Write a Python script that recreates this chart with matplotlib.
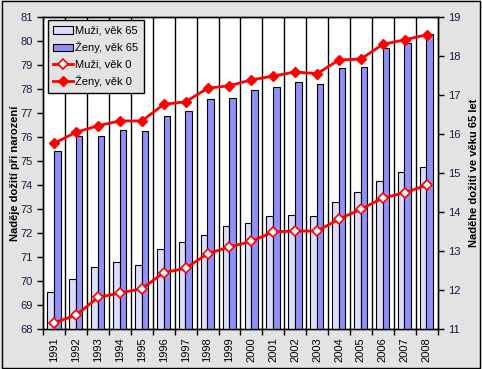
import matplotlib
matplotlib.use("Agg")
import matplotlib.pyplot as plt
from matplotlib.patches import Rectangle
import numpy as np

plt.rcParams['font.family'] = ['Liberation Sans', 'DejaVu Sans']

years = [str(y) for y in range(1991, 2009)]
muzi_65 = [11.94, 12.27, 12.58, 12.71, 12.64, 13.04, 13.22, 13.40, 13.63, 13.71,
           13.89, 13.92, 13.89, 14.26, 14.51, 14.79, 15.02, 15.15]
zeny_65 = [15.57, 15.94, 15.94, 16.09, 16.07, 16.45, 16.59, 16.89, 16.92, 17.12,
           17.20, 17.33, 17.27, 17.68, 17.73, 18.20, 18.33, 18.56]
muzi_0 = [68.26, 68.58, 69.32, 69.50, 69.68, 70.35, 70.53, 71.14, 71.42, 71.65,
          72.05, 72.08, 72.08, 72.58, 72.99, 73.46, 73.68, 73.99]
zeny_0 = [75.74, 76.20, 76.47, 76.67, 76.67, 77.36, 77.47, 78.03, 78.14, 78.38,
          78.54, 78.71, 78.64, 79.21, 79.25, 79.86, 80.05, 80.26]

bg = '#e3e3e3'
fig = plt.figure(figsize=(4.82, 3.69), dpi=100, facecolor=bg)
fig.patches.append(Rectangle((0.004, 0.004), 0.992, 0.992, transform=fig.transFigure,
                             fill=False, edgecolor='black', linewidth=1.0))

ax = fig.add_axes([0.0898, 0.1084, 0.818, 0.8455])
ax2 = ax.twinx()

x = np.arange(len(years))
w = 0.30
ax2.bar(x - 0.16, muzi_65, width=w, color='#dcdcfc', edgecolor='black', linewidth=0.8,
        label='Muži, věk 65', zorder=3)
ax2.bar(x + 0.14, zeny_65, width=w, color='#9090f8', edgecolor='black', linewidth=0.8,
        label='Ženy, věk 65', zorder=3)
ax2.set_ylim(11, 19)
ax2.set_yticks(range(11, 20))

ax.plot(x, muzi_0, color='#ff0000', lw=2, marker='D', ms=5.5, mfc='white', mec='#ff0000',
        mew=1.2, label='Muži, věk 0', zorder=5)
ax.plot(x, zeny_0, color='#ff0000', lw=2, marker='D', ms=5.5, mfc='#ff0000', mec='#ff0000',
        label='Ženy, věk 0', zorder=5)
ax.set_ylim(68, 81)
ax.set_yticks(range(68, 82))
ax.set_xlim(-0.5, len(years) - 0.5)

ax.set_zorder(ax2.get_zorder() + 1)
ax.patch.set_visible(False)
ax2.patch.set_visible(True)
ax2.patch.set_facecolor('white')

# category boundaries: gridlines and ticks
bounds = np.arange(-0.5, len(years), 1.0)
ax.set_xticks(x)
ax.set_xticklabels(years, rotation=90)
ax.set_xticks(bounds, minor=True)
ax.tick_params(axis='x', which='major', length=0, pad=6, labelsize=8)
ax.tick_params(axis='x', which='minor', length=4, direction='out', width=1)
for b in bounds[1:-1]:
    ax2.axvline(b, color='black', lw=1.0, zorder=1)

ax.tick_params(axis='y', length=4, width=1, direction='out', labelsize=8, labelcolor='#1a1a40')
ax2.tick_params(axis='y', length=4, width=1, direction='out', labelsize=8, labelcolor='#1a1a40')
for a in (ax, ax2):
    for s in a.spines.values():
        s.set_linewidth(1.0)
        s.set_color('black')

ax.set_ylabel('Naděje dožití při narození', fontsize=8, fontweight='bold', labelpad=0)
ax2.set_ylabel('Naděhe dožití ve věku 65 let', fontsize=8, fontweight='bold', labelpad=6)

h2, l2 = ax2.get_legend_handles_labels()
h1, l1 = ax.get_legend_handles_labels()
leg = ax.legend(h2 + h1, l2 + l1, loc='upper left', bbox_to_anchor=(0.011, 0.99),
                borderaxespad=0.0,
                fontsize=8, frameon=True, fancybox=False, facecolor=bg, edgecolor='black',
                framealpha=1, handlelength=1.8, handletextpad=0.2, labelspacing=0.55,
                borderpad=0.5)
leg.get_frame().set_linewidth(1.0)

fig.savefig('out.png', dpi=100, facecolor=bg)
